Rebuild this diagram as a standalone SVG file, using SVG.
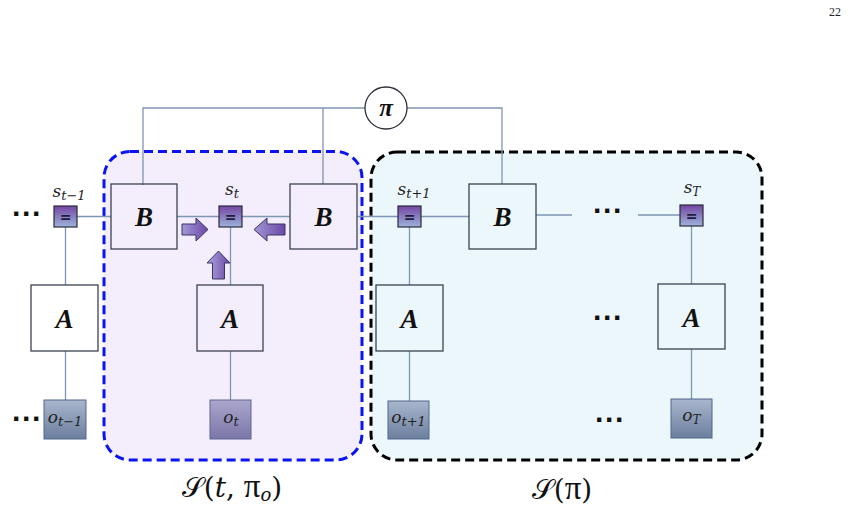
<svg xmlns="http://www.w3.org/2000/svg" width="861" height="512" viewBox="0 0 861 512">
<defs>
<linearGradient id="sg" x1="0" y1="0" x2="0" y2="1"><stop offset="0" stop-color="#7446a4"/><stop offset="1" stop-color="#9db3da"/></linearGradient>
<linearGradient id="og" x1="0" y1="0" x2="0" y2="1"><stop offset="0" stop-color="#a9b6cd"/><stop offset="1" stop-color="#6c7f9e"/></linearGradient>
<linearGradient id="otg" x1="0" y1="0" x2="0" y2="1"><stop offset="0" stop-color="#aaa6cc"/><stop offset="1" stop-color="#7b76a8"/></linearGradient>
<linearGradient id="ag" x1="0" y1="0" x2="1" y2="0"><stop offset="0" stop-color="#a497d6"/><stop offset="1" stop-color="#6a48a6"/></linearGradient>
<linearGradient id="agv" x1="0" y1="0" x2="1" y2="0"><stop offset="0" stop-color="#b0a6de"/><stop offset="1" stop-color="#6a48a6"/></linearGradient>
</defs>
<style>
.ln{stroke:#7f95b4;stroke-width:1.3;fill:none}
.bx{fill:none;stroke:#3c4252;stroke-width:1.3}
.bxw{fill:#ffffff;stroke:#3c4252;stroke-width:1.3}
.sn{fill:url(#sg);stroke:#2a2a3a;stroke-width:1.2}
.on{fill:url(#og);stroke:#50678a;stroke-width:1}
.ar{stroke:#3a3466;stroke-width:1;fill:url(#ag)}
.big{font-family:"Liberation Serif",serif;font-weight:bold;font-style:italic;font-size:27px;fill:#111;text-anchor:middle}
.lab{font-family:"DejaVu Serif","Liberation Serif",serif;font-style:italic;font-size:17px;fill:#222;text-anchor:middle}
.eq{font-family:"DejaVu Sans",sans-serif;font-weight:bold;font-size:14px;fill:#1e1e3c;text-anchor:middle}
.dots{font-family:"Liberation Sans",sans-serif;font-weight:bold;font-size:30px;fill:#111;text-anchor:middle}
.cap{font-family:"DejaVu Serif","Liberation Serif",serif;font-size:28px;fill:#111;text-anchor:middle}
.pi{font-family:"Liberation Serif",serif;font-size:33px}
</style>
<rect x="104" y="151.5" width="258" height="308.5" rx="26" fill="#f4eefc" stroke="#0a14f0" stroke-width="3" stroke-dasharray="9,5"/>
<rect x="371" y="152" width="391" height="308" rx="26" fill="#ecf7fc" stroke="#000" stroke-width="3" stroke-dasharray="9,5"/>
<text x="835" y="16" font-family="Liberation Serif,serif" font-size="12" fill="#222" text-anchor="middle">22</text>
<g id="connectors">
<path class="ln" d="M143,185 V108 H365 M407,108 H502 V184 M323,108 V184"/>
<path class="ln" d="M77,216.5 H111 M177,216.5 H219 M242,216.5 H290 M357,216.5 H398 M421,216.5 H469 M536,215 H572 M638,215 H680"/>
<path class="ln" d="M65.5,227 V285 M65.5,351 V400 M230.5,227 V285 M230.5,351 V400 M409.5,227 V285 M409.5,351 V401 M691.5,226 V284 M691.5,349 V399"/>
</g>
<g id="pi"><circle cx="386" cy="108" r="21" fill="#fff" stroke="#2a2f3a" stroke-width="1.3"/><text x="386" y="116" font-family="Liberation Serif,serif" font-style="italic" font-weight="bold" font-size="25" text-anchor="middle" fill="#111">π</text></g>
<g id="B1"><rect class="bx" x="111" y="184" width="66" height="65"/><text class="big" x="144" y="226">B</text></g>
<g id="B2"><rect class="bx" x="290" y="184" width="67" height="65"/><text class="big" x="323.5" y="226">B</text></g>
<g id="B3"><rect class="bx" x="469" y="184" width="67" height="65" stroke="#2e3e50"/><text class="big" x="502.5" y="226">B</text></g>
<g id="A1"><rect class="bxw" x="31" y="285" width="67" height="66"/><text class="big" x="64.5" y="328">A</text></g>
<g id="A2"><rect class="bx" x="197" y="285" width="66" height="66"/><text class="big" x="230" y="328">A</text></g>
<g id="A3"><rect class="bx" x="376" y="285" width="67" height="66"/><text class="big" x="409.5" y="328">A</text></g>
<g id="A4"><rect class="bx" x="658" y="284" width="67" height="65"/><text class="big" x="691.5" y="327">A</text></g>
<g id="s1"><rect class="sn" x="54" y="206" width="23" height="21"/><text class="eq" x="65.5" y="221.5">=</text><text class="lab" x="69" y="197">s<tspan font-size="13" dy="3">t−1</tspan></text></g>
<g id="s2"><rect class="sn" x="219" y="206" width="23" height="21"/><text class="eq" x="230.5" y="221.5">=</text><text class="lab" x="232" y="195">s<tspan font-size="13" dy="3">t</tspan></text></g>
<g id="s3"><rect class="sn" x="398" y="206" width="23" height="21"/><text class="eq" x="409.5" y="221.5">=</text><text class="lab" x="414" y="195">s<tspan font-size="13" dy="3">t+1</tspan></text></g>
<g id="s4"><rect class="sn" x="680" y="205" width="23" height="21"/><text class="eq" x="691.5" y="220.5">=</text><text class="lab" x="692" y="193">s<tspan font-size="12" dy="3">T</tspan></text></g>
<g id="o1"><rect class="on" x="44" y="400" width="42" height="39"/><text class="lab" x="65" y="423">o<tspan font-size="13" dy="3">t−1</tspan></text></g>
<g id="o2"><rect x="210" y="400" width="41" height="39" fill="url(#otg)" stroke="#5e6790" stroke-width="1"/><text class="lab" x="231" y="423">o<tspan font-size="13" dy="3">t</tspan></text></g>
<g id="o3"><rect class="on" x="388" y="401" width="41" height="38"/><text class="lab" x="408.5" y="423">o<tspan font-size="13" dy="3">t+1</tspan></text></g>
<g id="o4"><rect class="on" x="671" y="399" width="41" height="39"/><text class="lab" x="691.5" y="421">o<tspan font-size="12" dy="3">T</tspan></text></g>
<g id="arrows">
<path class="ar" d="M182,224 H196 V218 L208,229.5 L196,241 V235 H182 Z"/>
<path class="ar" d="M285,224 H267 V218 L254,229.5 L267,241 V235 H285 Z"/>
<path class="ar" style="fill:url(#agv)" d="M212.5,279 V263 H207 L218.5,251 L230,263 H224.5 V279 Z"/>
</g>
<g id="dots">
<text class="dots" x="27" y="224">···</text>
<text class="dots" x="27" y="429">···</text>
<text class="dots" x="608" y="221">···</text>
<text class="dots" x="608" y="328">···</text>
<text class="dots" x="610" y="430">···</text>
</g>
<text class="cap" x="232" y="497">𝒮(<tspan font-style="italic">t</tspan>, <tspan class="pi">π</tspan><tspan font-size="18" dy="4" font-style="italic">o</tspan><tspan dy="-4">)</tspan></text>
<text class="cap" x="562" y="499">𝒮(<tspan class="pi">π</tspan>)</text>
</svg>
